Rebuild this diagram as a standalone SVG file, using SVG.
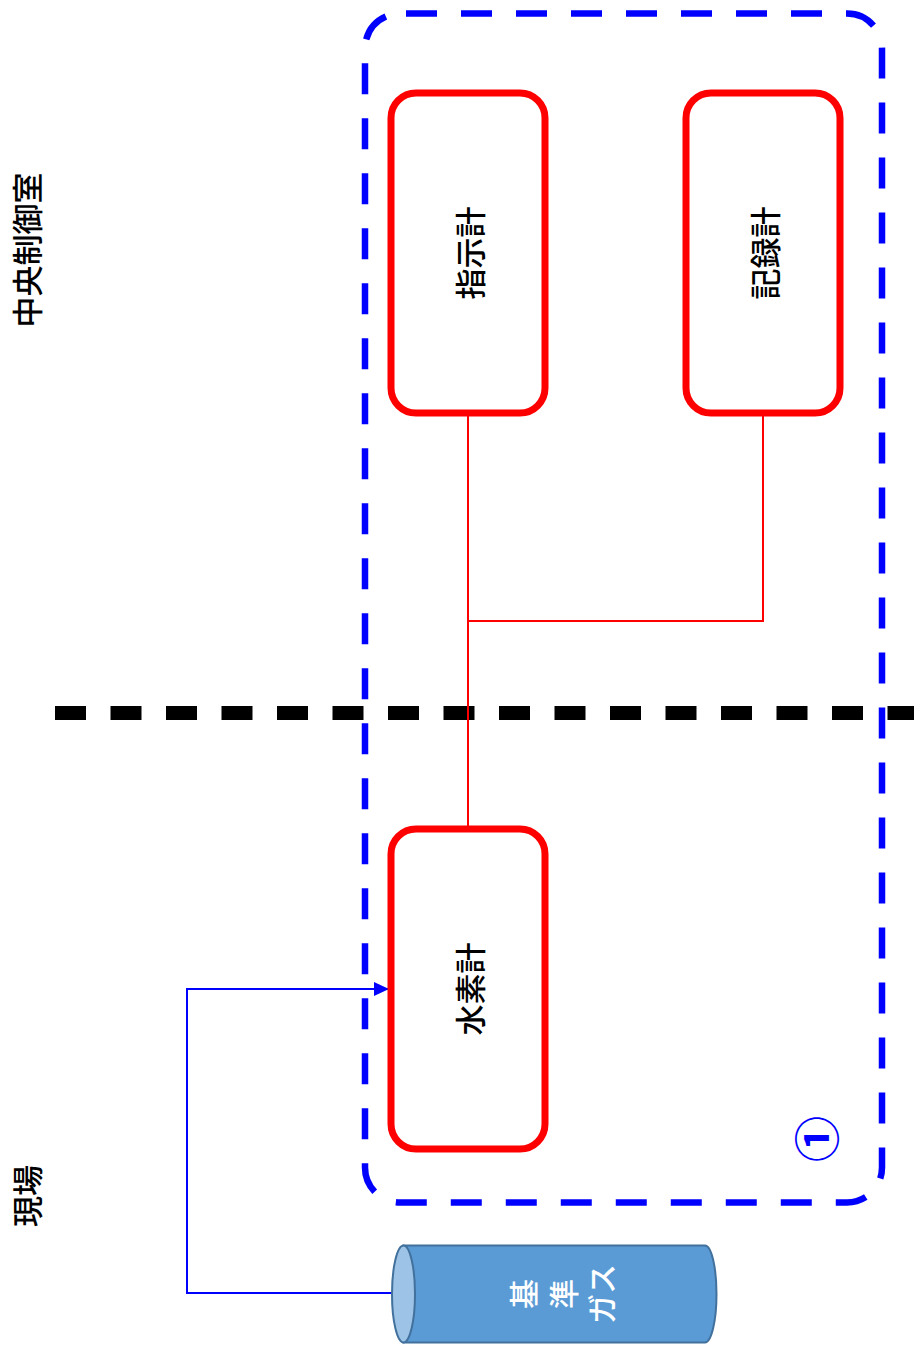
<svg xmlns="http://www.w3.org/2000/svg" width="914" height="1347" viewBox="0 0 914 1347">
<defs>
<style>
.lbl{font-family:"Noto Sans CJK JP","Liberation Sans",sans-serif;font-size:31px;font-weight:500;fill:#000;}
.box{fill:#fff;stroke:#ff0000;stroke-width:7;}
.wire{fill:none;stroke:#ff0000;stroke-width:2;}
</style>
<marker id="arr" markerWidth="16" markerHeight="14" refX="15" refY="7" orient="auto" markerUnits="userSpaceOnUse">
<path d="M0,0 L15,7 L0,14 Z" fill="#0000ff"/>
</marker>
</defs>
<rect width="914" height="1347" fill="#fff"/>
<g id="zones">
<line x1="55" y1="713" x2="914" y2="713" stroke="#000" stroke-width="14" stroke-dasharray="31 24.5"/>
<rect id="group1" x="365" y="13.5" width="517" height="1189" rx="35" ry="35" fill="none" stroke="#0000ff" stroke-width="6.5" stroke-dasharray="31 24" stroke-dashoffset="-6"/>
<text class="lbl" transform="translate(25,250) rotate(-90)" text-anchor="middle" dominant-baseline="central">中央制御室</text>
<text class="lbl" transform="translate(25,1196) rotate(-90)" text-anchor="middle" dominant-baseline="central">現場</text>
<text transform="translate(814,1139) rotate(-90)" text-anchor="middle" dominant-baseline="central" style="font-family:'Noto Sans CJK JP','DejaVu Sans',sans-serif;font-size:46px;font-weight:bold;fill:#0000ff;">①</text>
</g>
<g id="connectors">
<polyline class="wire" points="468,413 468,829"/>
<polyline class="wire" points="763,413 763,621 468,621"/>
<polyline points="392,1293 187,1293 187,989 389,989" fill="none" stroke="#0000ff" stroke-width="2" marker-end="url(#arr)"/>
</g>
<g id="indicator">
<rect class="box" x="391" y="93" width="154" height="320" rx="25" ry="25"/>
<text class="lbl" transform="translate(468,253) rotate(-90)" text-anchor="middle" dominant-baseline="central">指示計</text>
</g>
<g id="recorder">
<rect class="box" x="686" y="93" width="154" height="320" rx="25" ry="25"/>
<text class="lbl" transform="translate(763,253) rotate(-90)" text-anchor="middle" dominant-baseline="central">記録計</text>
</g>
<g id="h2meter">
<rect class="box" x="391" y="829" width="154" height="320" rx="25" ry="25"/>
<text class="lbl" transform="translate(468,989) rotate(-90)" text-anchor="middle" dominant-baseline="central">水素計</text>
</g>
<g id="refgas">
<path d="M403.5,1245.5 H705 A11.5,48.5 0 0 1 705,1342.5 H403.5 Z" fill="#5b9bd5" stroke="#41719c" stroke-width="2"/>
<ellipse cx="403.5" cy="1294" rx="11.5" ry="48.5" fill="#9dc3e6" stroke="#41719c" stroke-width="2"/>
<g transform="translate(560,1294) rotate(-90)" style="font-family:'Noto Sans CJK JP','Liberation Sans',sans-serif;font-size:30px;font-weight:500;fill:#fff;" text-anchor="middle">
<text x="0" y="-38" dominant-baseline="central">基</text>
<text x="0" y="2" dominant-baseline="central">準</text>
<text x="0" y="40" dominant-baseline="central">ガス</text>
</g>
</g>
</svg>
